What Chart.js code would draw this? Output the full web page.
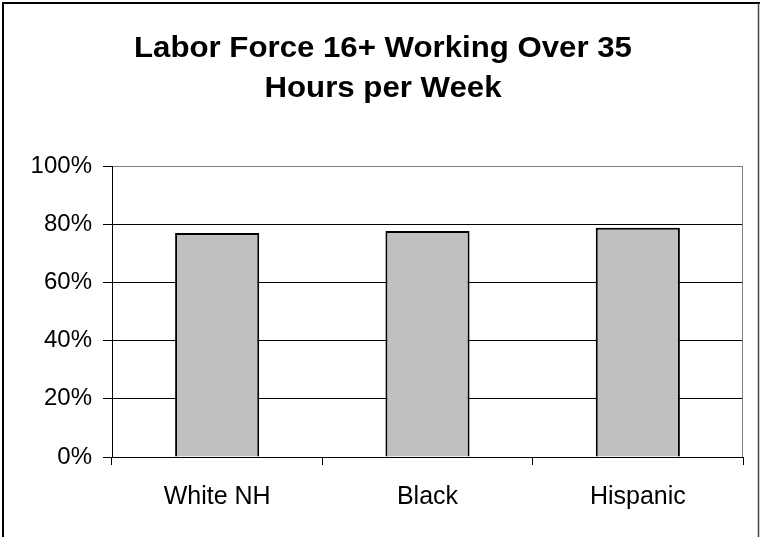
<!DOCTYPE html>
<html>
<head>
<meta charset="utf-8">
<title>Labor Force 16+ Working Over 35 Hours per Week</title>
<script src="https://cdn.jsdelivr.net/npm/chart.js@4.4.1/dist/chart.umd.min.js"></script>
<style>
  html, body { margin: 0; padding: 0; background: #fff; }
</style>
</head>
<body>
<canvas id="myChart" width="760" height="537"></canvas>
<script>
// data
var categories = ['White NH', 'Black', 'Hispanic'];
var shareOver35 = [77.0, 77.7, 78.8];
var titleLines = ['Labor Force 16+ Working Over 35', 'Hours per Week'];
var yMin = 0, yMax = 100, yStep = 20;

var fontFamily = 'Arial, "Liberation Sans", sans-serif';

// white page, outer frame, right edge of the plot area and the title
var framePlugin = {
    id: 'frame',
    beforeDraw: function (chart) {
        var c = chart.ctx;
        c.save();
        c.fillStyle = '#fff';
        c.fillRect(0, 0, chart.width, chart.height);
        c.restore();
    },
    afterDraw: function (chart) {
        var c = chart.ctx, a = chart.chartArea;
        c.save();
        c.strokeStyle = '#808080';
        c.lineWidth = 1;
        c.beginPath();
        c.moveTo(Math.round(a.right) - 0.5, a.top);
        c.lineTo(Math.round(a.right) - 0.5, a.bottom);
        c.stroke();

        c.strokeStyle = '#000';
        c.lineWidth = 2;
        c.beginPath();
        c.moveTo(3, chart.height);
        c.lineTo(3, 3);
        c.lineTo(chart.width, 3);
        c.stroke();
        c.strokeStyle = '#444';
        c.lineWidth = 1.5;
        c.beginPath();
        c.moveTo(758.5, 3);
        c.lineTo(758.5, chart.height);
        c.stroke();

        c.fillStyle = '#000';
        c.font = 'bold 30px ' + fontFamily;
        c.textAlign = 'center';
        c.textBaseline = 'alphabetic';
        titleLines.forEach(function (line, i) {
            c.save();
            c.translate(383, 57 + i * 40);
            c.scale(1.04, 1);
            c.fillText(line, 0, 0);
            c.restore();
        });
        c.restore();
    }
};

var ctx = document.getElementById('myChart');
var barChart = new Chart(ctx, {
    type: 'bar',
    data: {
        labels: categories,
        datasets: [{
            label: 'Working over 35 hours',
            data: shareOver35,
            backgroundColor: '#C0C0C0',
            borderColor: '#000',
            borderWidth: 2,
            borderSkipped: 'start',
            categoryPercentage: 1,
            barPercentage: 0.4
        }]
    },
    options: {
        responsive: false,
        animation: false,
        layout: { padding: { top: 166, right: 17, bottom: 0, left: 0 } },
        plugins: {
            legend: { display: false },
            title: { display: false },
            tooltip: { enabled: false }
        },
        scales: {
            x: {
                afterFit: function (scale) { scale.height = 80; },
                grid: { offset: true, drawOnChartArea: false, color: '#000', tickLength: 8 },
                border: { color: '#000', width: 1 },
                ticks: { color: '#000', padding: 17, maxRotation: 0, font: { family: fontFamily, size: 25 } }
            },
            y: {
                min: yMin,
                max: yMax,
                afterFit: function (scale) { scale.width = 112; },
                grid: {
                    color: function (c) { return c.tick && c.tick.value === yMax ? '#808080' : '#000'; },
                    tickColor: '#000',
                    tickLength: 9
                },
                border: { color: '#000', width: 1 },
                ticks: {
                    stepSize: yStep,
                    color: '#000',
                    padding: 11,
                    font: { family: fontFamily, size: 24 },
                    callback: function (v) { return v + '%'; }
                }
            }
        }
    },
    plugins: [framePlugin]
});
</script>
</body>
</html>
